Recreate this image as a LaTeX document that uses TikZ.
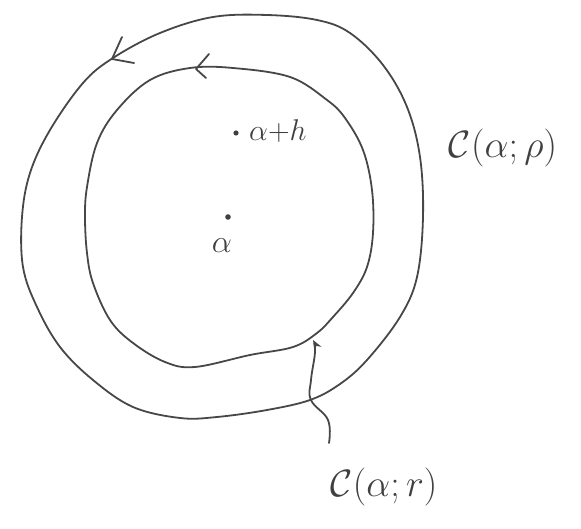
\RequirePackage{fix-cm}
\documentclass[tikz,border=0pt]{standalone}
\usetikzlibrary{arrows.meta}
\begin{document}
\begin{tikzpicture}[x=1pt,y=-1pt,
  pen/.style={draw=black!72,line width=1.8pt,line cap=round,line join=round},
  lbl/.style={text=black!75,inner sep=0pt}]
\useasboundingbox (0,0) rectangle (581,529);
% outer contour
\draw[pen] plot[smooth cycle,tension=0.6] coordinates {(267,15) (213,17) (160,33) (113,58) (83,83) (50,130) (30,173) (22,217) (23,267) (37,307) (60,347) (93,380) (133,407) (180,418) (217,417) (267,410) (310,400) (340,384) (367,360) (400,317) (417,277) (423,217) (420,157) (407,107) (383,65) (350,33) (317,20)};
% inner contour
\draw[pen] plot[smooth cycle,tension=0.6] coordinates {(233,68) (190,68) (150,80) (117,110) (97,143) (87,187) (85,217) (87,253) (93,283) (110,320) (133,343) (165,362) (195,367) (250,355) (293,347) (317,333) (333,317) (353,293) (367,267) (373,233) (372,190) (363,150) (345,118) (327,100) (290,77)};
% arrowheads on contours
\draw[pen] (122,37) -- (112,59) -- (134,63);
\draw[pen] (209,54) -- (196,69) -- (206,78);
% points
\fill[black!75] (236,133) circle (2.6pt);
\fill[black!75] (228,217) circle (2.8pt);
\node[lbl,font=\fontsize{30}{34}\selectfont,anchor=west] (ah) at (249,131) {$\alpha{+}h$};
\node[lbl,font=\fontsize{32}{36}\selectfont] (a) at (222,246) {$\alpha$};
\node[lbl,font=\fontsize{38}{42}\selectfont] (cp) at (503,148) {$\mathcal{C}(\alpha;\rho)$};
\node[lbl,font=\fontsize{38}{42}\selectfont] (cr) at (384,487) {$\mathcal{C}(\alpha;r)$};
\coordinate (tip) at (313,340);
\coordinate (start) at (329,443);
\draw[pen,-{Stealth[length=10pt,width=8pt]}] plot[smooth,tension=0.7] coordinates {(start) (328,420) (311,400) (311,380) (315,352) (tip)};
\end{tikzpicture}
\end{document}
